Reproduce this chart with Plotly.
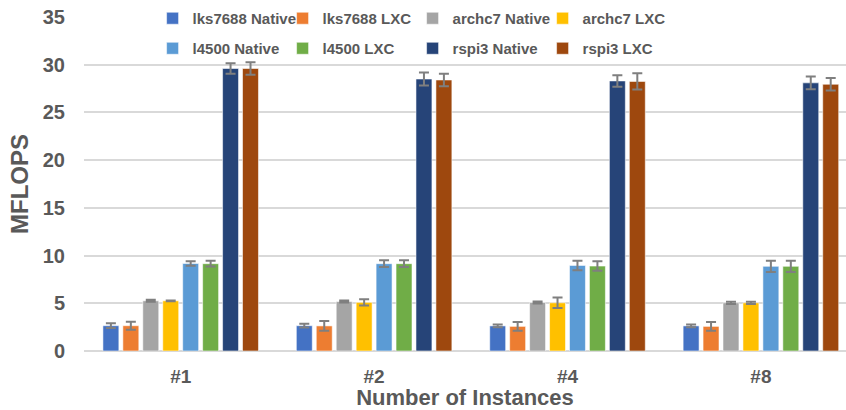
import plotly.graph_objects as go

# Benchmark results: MFLOPS per platform, native vs LXC container
instances = ["#1", "#2", "#4", "#8"]

series_names = [
    "lks7688 Native", "lks7688 LXC",
    "archc7 Native", "archc7 LXC",
    "l4500 Native", "l4500 LXC",
    "rspi3 Native", "rspi3 LXC",
]

lks7688_native = [2.65, 2.65, 2.63, 2.63]
lks7688_lxc = [2.65, 2.63, 2.58, 2.58]
archc7_native = [5.26, 5.18, 5.08, 5.05]
archc7_lxc = [5.26, 5.10, 5.05, 5.05]
l4500_native = [9.17, 9.15, 8.97, 8.87]
l4500_lxc = [9.15, 9.15, 8.90, 8.87]
rspi3_native = [29.6, 28.5, 28.3, 28.1]
rspi3_lxc = [29.6, 28.4, 28.25, 27.95]

lks7688_native_err = [0.25, 0.20, 0.15, 0.15]
lks7688_lxc_err = [0.42, 0.52, 0.47, 0.47]
archc7_native_err = [0.10, 0.10, 0.10, 0.12]
archc7_lxc_err = [0.04, 0.33, 0.55, 0.12]
l4500_native_err = [0.23, 0.35, 0.50, 0.60]
l4500_lxc_err = [0.30, 0.35, 0.50, 0.60]
rspi3_native_err = [0.55, 0.68, 0.60, 0.66]
rspi3_lxc_err = [0.65, 0.65, 0.86, 0.65]

values = [lks7688_native, lks7688_lxc, archc7_native, archc7_lxc,
          l4500_native, l4500_lxc, rspi3_native, rspi3_lxc]
errors = [lks7688_native_err, lks7688_lxc_err, archc7_native_err, archc7_lxc_err,
          l4500_native_err, l4500_lxc_err, rspi3_native_err, rspi3_lxc_err]
colors = ["#4472C4", "#ED7D31", "#A5A5A5", "#FFC000",
          "#5B9BD5", "#70AD47", "#264478", "#9E480E"]

TEXT = "#595959"
FONT = "Liberation Sans"

fig = go.Figure()
for i, (name, vals, errs, col) in enumerate(zip(series_names, values, errors, colors)):
    fig.add_trace(go.Bar(
        name=name,
        x=instances,
        y=vals,
        legend="legend" if i < 4 else "legend2",
        marker=dict(color=col, line=dict(color="rgba(255,255,255,0.55)", width=1)),
        error_y=dict(type="data", array=errs, visible=True,
                     color="#7F7F7F", thickness=2, width=5),
    ))

legend_style = dict(
    orientation="h",
    x=0.09, xanchor="left", yanchor="top",
    bgcolor="rgba(0,0,0,0)",
    entrywidth=85, entrywidthmode="pixels",
    font=dict(family=FONT, size=15, color=TEXT, weight="bold"),
    traceorder="normal",
)

fig.update_layout(
    width=846, height=410,
    margin=dict(l=84, r=0, t=17, b=59),
    paper_bgcolor="white", plot_bgcolor="white",
    barmode="group", bargap=0.175, bargroupgap=0.2,
    font=dict(family=FONT, color=TEXT),
    legend=dict(legend_style, y=1.045),
    legend2=dict(legend_style, y=0.955),
    showlegend=True,
)

fig.update_xaxes(
    range=[-0.5, 3.44],
    showgrid=False, showline=False, zeroline=False,
    ticks="", ticklabelstandoff=12,
    tickfont=dict(family=FONT, size=19, color=TEXT, weight="bold"),
    title=dict(text="Number of Instances", standoff=0,
               font=dict(family=FONT, size=22, color=TEXT, weight="bold")),
)

fig.update_yaxes(
    range=[0, 35], dtick=5,
    showgrid=True, gridcolor="#D9D9D9", gridwidth=1.5,
    zeroline=True, zerolinecolor="#D9D9D9", zerolinewidth=1.5,
    showline=False, ticks="", ticklabelstandoff=18,
    tickfont=dict(family=FONT, size=20, color=TEXT, weight="bold"),
    title=dict(text="MFLOPS", standoff=7,
               font=dict(family=FONT, size=24, color=TEXT, weight="bold")),
)

fig.write_html("out.html")
